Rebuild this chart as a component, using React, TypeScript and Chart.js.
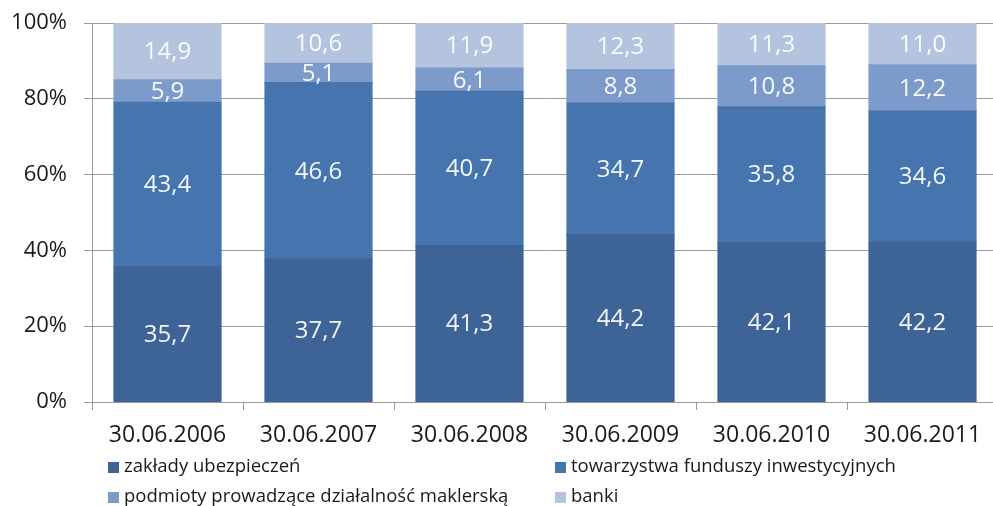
import React, { useEffect, useRef } from "react";
import { Chart, registerables } from "chart.js";

Chart.register(...registerables);

const categories = ["30.06.2006", "30.06.2007", "30.06.2008", "30.06.2009", "30.06.2010", "30.06.2011"];
const seriesNames = [
  "zakłady ubezpieczeń",
  "towarzystwa funduszy inwestycyjnych",
  "podmioty prowadzące działalność maklerską",
  "banki",
];
const zaklady = [35.7, 37.7, 41.3, 44.2, 42.1, 42.2];
const tfi = [43.4, 46.6, 40.7, 34.7, 35.8, 34.6];
const maklerskie = [5.9, 5.1, 6.1, 8.8, 10.8, 12.2];
const banki = [14.9, 10.6, 11.9, 12.3, 11.3, 11.0];
const yTicks = [0, 20, 40, 60, 80, 100];

const colors = ["#3E6497", "#4674AE", "#7C9BCA", "#B4C3DE"];
const FONT = "'Open Sans', sans-serif";

const dataLabelPlugin = {
  id: "dataLabels",
  afterDatasetsDraw(chart: any) {
    const ctx = chart.ctx;
    ctx.save();
    ctx.font = `24px ${FONT}`;
    ctx.fillStyle = "rgba(255,255,255,0.93)";
    ctx.textAlign = "center";
    ctx.textBaseline = "middle";
    chart.data.datasets.forEach((ds: any, i: number) => {
      const meta = chart.getDatasetMeta(i);
      meta.data.forEach((bar: any, j: number) => {
        const v = ds.data[j];
        const cy = (bar.y + bar.base) / 2;
        ctx.fillText(v.toFixed(1).replace(".", ","), bar.x, cy + 1);
      });
    });
    ctx.restore();
  },
};

const legendPlugin = {
  id: "customLegend",
  afterDraw(chart: any) {
    const ctx = chart.ctx;
    ctx.save();
    ctx.font = `18.5px ${FONT}`;
    ctx.textBaseline = "middle";
    ctx.textAlign = "left";
    const cols = [108, 555];
    const rows = [467, 497];
    seriesNames.forEach((name, i) => {
      const x = cols[i % 2];
      const y = rows[Math.floor(i / 2)];
      ctx.fillStyle = colors[i];
      ctx.fillRect(x, y - 5, 11, 11);
      ctx.fillStyle = "#1a1a1a";
      ctx.fillText(name, x + 16, y);
    });
    ctx.restore();
  },
};

export default function App() {
  const ref = useRef<HTMLCanvasElement>(null);
  useEffect(() => {
    if (!ref.current) return;
    const datasets = [zaklady, tfi, maklerskie, banki].map((d, i) => ({
      label: seriesNames[i],
      data: d,
      backgroundColor: colors[i],
      borderColor: colors[i],
      borderWidth: 0,
      inflateAmount: 0.5,
      categoryPercentage: 1,
      barPercentage: 0.71,
    }));
    const chart = new Chart(ref.current, {
      type: "bar",
      data: { labels: categories, datasets },
      options: {
        animation: false,
        responsive: false,
        devicePixelRatio: 1,
        layout: { autoPadding: false, padding: { left: 0, right: 0, top: 23, bottom: 54 } },
        plugins: { legend: { display: false }, tooltip: { enabled: false } },
        scales: {
          x: {
            stacked: true,
            afterFit: (s: any) => {
              s.height = 50;
              s.paddingLeft = 0;
              s.paddingRight = 0;
            },
            grid: {
              offset: true,
              drawOnChartArea: false,
              drawTicks: true,
              tickLength: 8,
              color: "#9A9A9A",
            },
            border: { color: "#9A9A9A", width: 1 },
            ticks: { font: { family: FONT, size: 23 }, color: "#1a1a1a", padding: 12, maxRotation: 0 },
          },
          y: {
            stacked: true,
            min: 0,
            max: 100,
            afterFit: (s: any) => {
              s.width = 92;
              s.paddingTop = 0;
              s.paddingBottom = 0;
            },
            afterBuildTicks: (s: any) => {
              s.ticks = yTicks.map((v) => ({ value: v }));
            },
            grid: { color: "#9A9A9A", tickLength: 8, drawTicks: true },
            border: { color: "#9A9A9A", width: 1 },
            ticks: {
              font: { family: FONT, size: 22 },
              color: "#1a1a1a",
              padding: 17,
              callback: (v: any) => `${v}%`,
            },
          },
        },
      },
      plugins: [dataLabelPlugin, legendPlugin],
    });
    return () => chart.destroy();
  }, []);
  return (
    <div style={{ position: "absolute", left: 0, top: 0, width: 993, height: 506, overflow: "hidden", background: "#fff" }}>
      <canvas ref={ref} width={998} height={506} style={{ width: 998, height: 506 }} />
    </div>
  );
}
